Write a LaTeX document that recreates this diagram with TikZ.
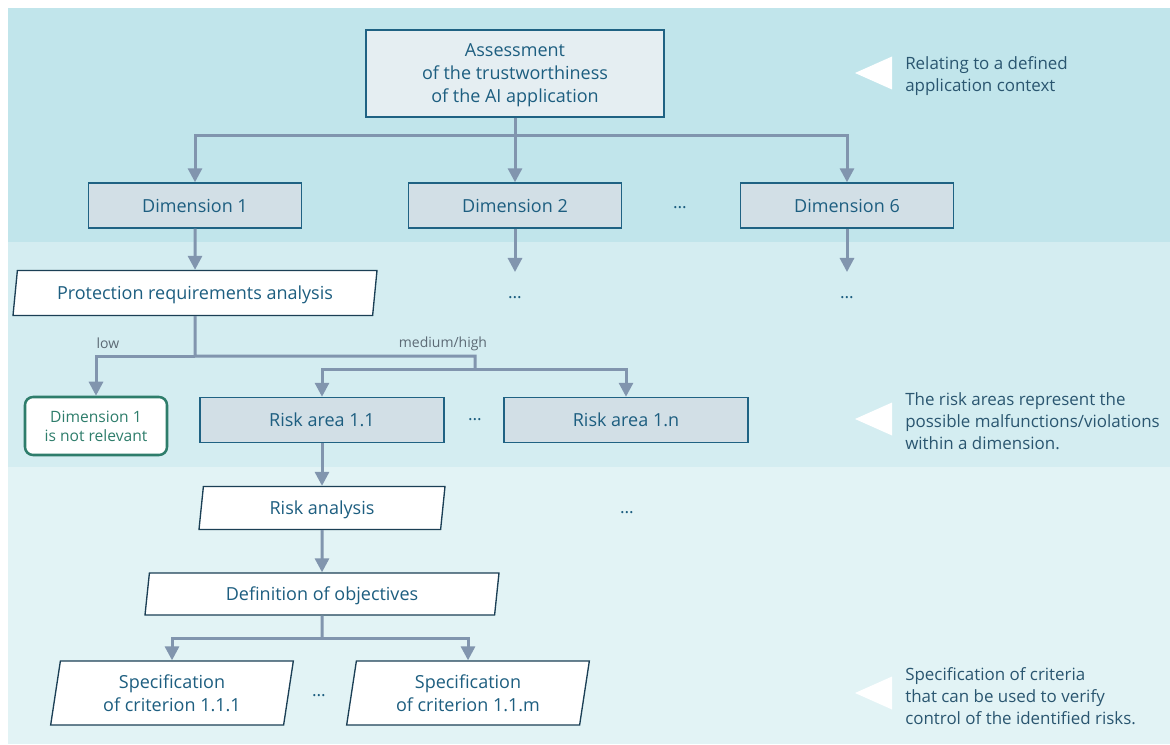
\documentclass[tikz,border=0pt]{standalone}
\usepackage{fontspec}
\setmainfont{Open Sans}
\usepackage{tikz}
\usetikzlibrary{shapes.geometric}
\usetikzlibrary{arrows.meta}
\definecolor{bandA}{HTML}{C1E5EB}
\definecolor{bandB}{HTML}{D4EDF1}
\definecolor{bandC}{HTML}{E2F3F5}
\definecolor{boxfill}{HTML}{D2DFE6}
\definecolor{topfill}{HTML}{E5EEF2}
\definecolor{boxline}{HTML}{1F6283}
\definecolor{paraline}{HTML}{1B3F55}
\definecolor{txt}{HTML}{1D5E80}
\definecolor{conn}{HTML}{8195AE}
\definecolor{okgreen}{HTML}{2E7D6B}
\definecolor{notetxt}{HTML}{2A5670}
\definecolor{labgrey}{HTML}{5C6A75}
\tikzstyle{dimbox} = [rectangle, draw=boxline, fill=boxfill, line width=1.1pt,
text=txt, font=\fontsize{13.5}{17.25}\selectfont, minimum width=159.75pt,
minimum height=33.75pt, inner sep=2pt]
\tikzstyle{topbox} = [dimbox, fill=topfill, align=center, minimum width=223.5pt,
minimum height=65.25pt, text depth=0pt]
\tikzstyle{riskbox} = [dimbox, minimum width=183pt]
\tikzstyle{para} = [trapezium, trapezium left angle=77, trapezium right angle=103,
trapezium stretches body, draw=paraline, fill=white, line width=1pt, text=txt,
font=\fontsize{13.5}{17.25}\selectfont, align=center, inner sep=2pt, text depth=0pt]
\tikzstyle{dropbox} = [rectangle, rounded corners=6pt, draw=okgreen, line width=1.9pt,
fill=white, text=okgreen, align=center, font=\fontsize{11.7}{14.25}\selectfont,
minimum width=106.5pt, minimum height=43.5pt, inner sep=2pt]
\tikzstyle{note} = [anchor=west, inner sep=0pt, align=left, text=notetxt,
font=\fontsize{12.7}{16.5}\selectfont]
\tikzstyle{branch} = [text=labgrey, font=\fontsize{10.5}{12}\selectfont, inner sep=1pt]
\tikzstyle{etc} = [text=txt, font=\fontsize{13}{15}\selectfont, inner sep=1pt]
\tikzstyle{link} = [draw=conn, line width=2.25pt]
\tikzstyle{arrow} = [link, -{Triangle[length=10.5pt,width=10.5pt]}]

\begin{document}
\begin{tikzpicture}[
    x=0.75pt, y=-0.75pt
    ]

  \useasboundingbox (0,0) rectangle (1170,745);
  % bands
  \fill[bandA] (8,8) rectangle (1170,242);
  \fill[bandB] (8,242) rectangle (1170,467);
  \fill[bandC] (8,467) rectangle (1170,744);

  \node[topbox] (assess) at (515,73.5) {Assessment\\of the trustworthiness\\of the AI application};

  \node[dimbox] (dim1) at (195,205.5) {Dimension 1}; %
  \node[dimbox] (dim2) at (515,205.5) {Dimension 2}; %
  \node[etc] (dotsdim) at (680,208) {\ldots}; %
  \node[dimbox] (dim6) at (847,205.5) {Dimension 6}; %

  \node[para, minimum width=273pt, minimum height=33.75pt] (prot) at (195,293) {Protection requirements analysis}; %
  \coordinate (d2end) at (515,272);
  \coordinate (d6end) at (847,272);
  \node[etc] (dots2) at (515,298) {\ldots}; %
  \node[etc] (dots6) at (847,298) {\ldots}; %

  \node[branch] (lowlab) at (108,343) {low}; %
  \node[branch] (medlab) at (443,344) {medium/high}; %

  \node[dropbox] (nrel) at (96,426) {Dimension 1\\is not relevant}; %
  \node[riskbox] (risk1) at (322,420) {Risk area 1.1}; %
  \node[etc] (dotsrisk) at (475,420) {\ldots}; %
  \node[riskbox] (riskn) at (626,420) {Risk area 1.n}; %

  \node[para, minimum width=184.5pt, minimum height=32.25pt] (ranal) at (322,508) {Risk analysis}; %
  \node[etc] (dotsmore) at (627,513) {\ldots}; %
  \node[para, minimum width=265.5pt, minimum height=31.5pt] (defobj) at (322,594) {Definition of objectives}; %

  \node[para, minimum width=182pt, minimum height=48pt] (spec1) at (172,693) {Specification\\of criterion 1.1.1}; %
  \node[etc] (dotsspec) at (319,696) {\ldots}; %
  \node[para, minimum width=182pt, minimum height=48pt] (spec2) at (468,693) {Specification\\of criterion 1.1.m}; %

  % connectors
  \coordinate (bus) at (515,136);
  \draw[link] (assess.south) -- (bus);
  \draw[arrow] (bus) -| (dim1.north);
  \draw[arrow] (bus) -- (dim2.north);
  \draw[arrow] (bus) -| (dim6.north);

  \draw[arrow] (dim1) -- (prot);
  \draw[arrow] (dim2) -- (d2end);
  \draw[arrow] (dim6) -- (d6end);

  \coordinate (split) at (195,356);
  \coordinate (mid) at (475,356);
  \coordinate (fork) at (475,369);
  \draw[link] (prot.south) -- (split) -- (mid) -- (fork);
  \draw[arrow] (split) -| (nrel.north);
  \draw[arrow] (fork) -| (risk1.north);
  \draw[arrow] (fork) -| (riskn.north);

  \draw[arrow] (risk1) -- (ranal);
  \draw[arrow] (ranal) -- (defobj);

  \coordinate (fan) at (322,638);
  \draw[link] (defobj.south) -- (fan);
  \draw[arrow] (fan) -| (spec1.north);
  \draw[arrow] (fan) -| (spec2.north);

  % side notes
  \foreach \y in {73,419,693} {
    \fill[white] (855,\y) -- (892,\y-16.5) -- (892,\y+16.5) -- cycle;
  }
  \node[note] (ctx) at (905,76) {Relating to a defined\\application context}; %
  \node[note] (areas) at (905,421) {The risk areas represent the\\possible malfunctions/violations\\within a dimension.}; %
  \node[note] (crit) at (905,696) {Specification of criteria\\that can be used to verify\\control of the identified risks.}; %

\end{tikzpicture}
\end{document}
